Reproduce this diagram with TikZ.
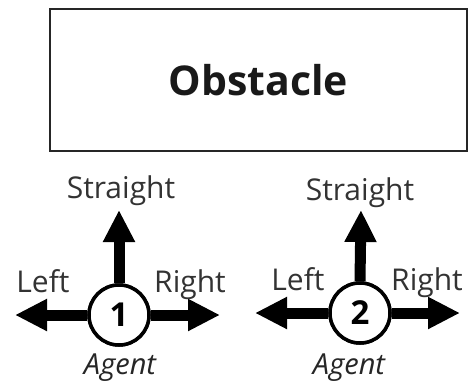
\documentclass[tikz,border=0pt]{standalone}
\usepackage{fontspec}
\setmainfont{Open Sans}
\usetikzlibrary{arrows.meta}
\begin{document}
\begin{tikzpicture}[x=1pt,y=-1pt,
  obstacle/.style={draw=black!85, line width=2.5pt, minimum width=417pt, minimum height=142pt, inner sep=0pt, font=\fontsize{41}{41}\selectfont\bfseries, text=black!90},
  agent/.style={circle, draw=black, line width=3.5pt, fill=white, minimum size=60pt, inner sep=0pt, font=\fontsize{33}{33}\selectfont\bfseries},
  move/.style={line width=11pt, -{Triangle[width=30pt,length=32pt]}},
  lbl/.style={font=\fontsize{30}{30}\selectfont, text=black!80, inner sep=0pt, anchor=base},
  who/.style={font=\fontsize{29}{29}\selectfont\itshape, text=black!85, inner sep=0pt, anchor=base}]
\useasboundingbox (0,0) rectangle (472,384);
\node[obstacle] (obs) at (258.5,80) {Obstacle};

% Agent 1
\coordinate (l1) at (15,315);
\coordinate (r1) at (220,315);
\coordinate (s1) at (119,210);
\node[agent] (c1) at (119,315) {1};
\draw[move] (c1.west) -- (l1);
\draw[move] (c1.east) -- (r1);
\draw[move] (c1.north) -- (s1);
\node[agent] at (c1) {1};
\node[lbl] (st1) at (121,198) {Straight};
\node[lbl] (lt1) at (43,292) {Left};
\node[lbl] (rt1) at (190,292) {Right};
\node[who] (ag1) at (120,374) {Agent};

% Agent 2
\coordinate (l2) at (255,313);
\coordinate (r2) at (460,313);
\coordinate (s2) at (361,210);
\node[agent] (c2) at (360,313) {2};
\draw[move] (c2.west) -- (l2);
\draw[move] (c2.east) -- (r2);
\draw[move] (c2.north) -- (s2);
\node[agent] at (c2) {2};
\node[lbl] (st2) at (360,200) {Straight};
\node[lbl] (lt2) at (298,290) {Left};
\node[lbl] (rt2) at (427,290) {Right};
\node[who] (ag2) at (349,374) {Agent};
\end{tikzpicture}
\end{document}
